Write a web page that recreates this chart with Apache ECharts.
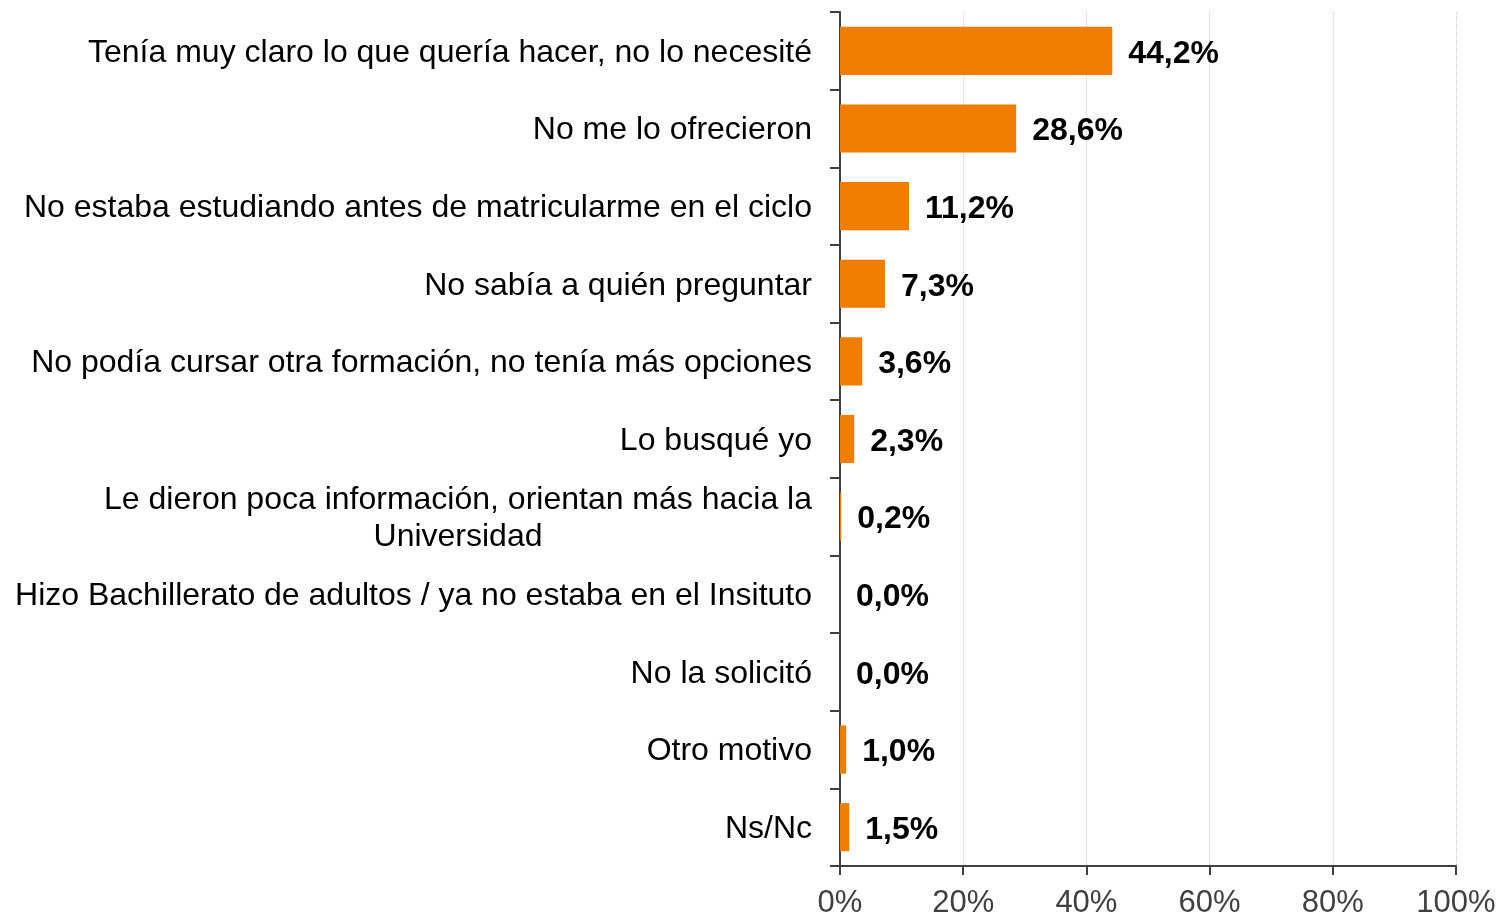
<!DOCTYPE html>
<html>
<head>
<meta charset="utf-8">
<style>
html,body{margin:0;padding:0;background:#fff;}
#chart{width:1501px;height:916px;}
</style>
<script src="https://cdn.jsdelivr.net/npm/echarts@6/dist/echarts.min.js"></script>
</head>
<body>
<div id="chart"></div>
<script>
const categories = [
  "Tenía muy claro lo que quería hacer, no lo necesité",
  "No me lo ofrecieron",
  "No estaba estudiando antes de matricularme en el ciclo",
  "No sabía a quién preguntar",
  "No podía cursar otra formación, no tenía más opciones",
  "Lo busqué yo",
  "Le dieron poca información, orientan más hacia la\nUniversidad",
  "Hizo Bachillerato de adultos / ya no estaba en el Insituto",
  "No la solicitó",
  "Otro motivo",
  "Ns/Nc"
];
const values = [44.2, 28.6, 11.2, 7.3, 3.6, 2.3, 0.2, 0.0, 0.0, 1.0, 1.5];
const xTicks = [0, 20, 40, 60, 80, 100];

const chart = echarts.init(document.getElementById('chart'), null, {renderer: 'canvas'});
chart.setOption({
  animation: false,
  backgroundColor: '#ffffff',
  grid: {left: 840, right: 45, top: 12, bottom: 50, containLabel: false, outerBoundsMode: 'none'},
  xAxis: {
    type: 'value',
    min: xTicks[0],
    max: xTicks[xTicks.length - 1],
    interval: 20,
    axisLine: {show: true, lineStyle: {color: '#404040', width: 2}},
    axisTick: {show: true, length: 9, lineStyle: {color: '#404040', width: 2}},
    axisLabel: {
      margin: 22,
      color: '#404040',
      fontFamily: 'Liberation Sans, Arial, sans-serif',
      fontSize: 31,
      formatter: v => v + '%'
    },
    splitLine: {show: true, lineStyle: {color: '#c8c8c8', type: 'dotted', width: 1}}
  },
  yAxis: {
    type: 'category',
    data: categories,
    inverse: true,
    axisLine: {show: true, lineStyle: {color: '#404040', width: 2}},
    axisTick: {show: true, length: 10, lineStyle: {color: '#404040', width: 2}},
    axisLabel: {
      margin: 28,
      color: '#000000',
      fontFamily: 'Liberation Sans, Arial, sans-serif',
      fontSize: 32,
      lineHeight: 37,
      padding: [4, 0, 0, 0],
      formatter: function (v) {
        return v.split('\n').map(s => '{c|' + s + '}').join('\n');
      },
      rich: {c: {align: 'center', fontSize: 32, lineHeight: 37, color: '#000000', fontFamily: 'Liberation Sans, Arial, sans-serif'}}
    },
    splitLine: {show: false}
  },
  series: [{
    type: 'bar',
    data: values,
    barCategoryGap: '38%',
    itemStyle: {color: '#EE7D00'},
    label: {
      show: true,
      position: 'right',
      distance: 16,
      offset: [0, 3],
      color: '#000000',
      fontWeight: 'bold',
      fontFamily: 'Liberation Sans, Arial, sans-serif',
      fontSize: 32,
      formatter: p => p.value.toFixed(1).replace('.', ',') + '%'
    }
  }]
});
</script>
</body>
</html>
